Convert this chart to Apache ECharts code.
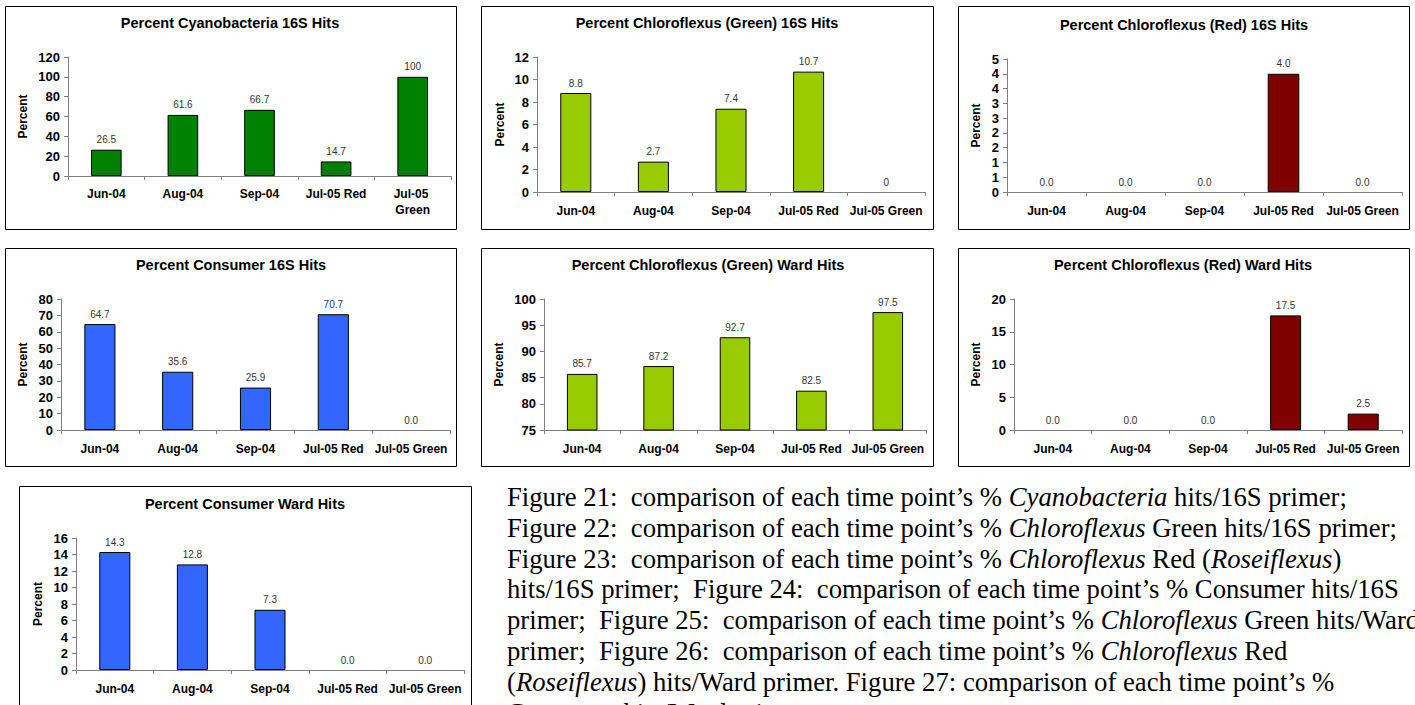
<!DOCTYPE html>
<html><head><meta charset="utf-8">
<script src="https://cdn.jsdelivr.net/npm/echarts@6/dist/echarts.min.js"></script>
<style>
html,body{margin:0;padding:0;width:1415px;height:705px;overflow:hidden;background:#fff;}
#chart{position:absolute;left:0;top:0;width:1415px;height:705px;}
#caption{position:absolute;left:507px;top:482px;font-family:"Liberation Serif","Times New Roman",serif;font-size:26.7px;line-height:30.8px;white-space:pre;color:#000;}
</style></head><body>
<div id="chart"></div>
<div id="caption">Figure 21:  comparison of each time point’s % <i>Cyanobacteria</i> hits/16S primer;
Figure 22:  comparison of each time point’s % <i>Chloroflexus</i> Green hits/16S primer;
Figure 23:  comparison of each time point’s % <i>Chloroflexus</i> Red (<i>Roseiflexus</i>)
hits/16S primer;  Figure 24:  comparison of each time point’s % Consumer hits/16S
primer;  Figure 25:  comparison of each time point’s % <i>Chloroflexus</i> Green hits/Ward
primer;  Figure 26:  comparison of each time point’s % <i>Chloroflexus</i> Red
(<i>Roseiflexus</i>) hits/Ward primer. Figure 27: comparison of each time point’s %
Consumer hits/Ward primer.</div>
<script>
// ---- data ----
const categories = ['Jun-04', 'Aug-04', 'Sep-04', 'Jul-05 Red', 'Jul-05 Green'];
const cyano16S = [26.5, 61.6, 66.7, 14.7, 100];
const chloroGreen16S = [8.8, 2.7, 7.4, 10.7, 0];
const chloroRed16S = [0.0, 0.0, 0.0, 4.0, 0.0];
const consumer16S = [64.7, 35.6, 25.9, 70.7, 0.0];
const chloroGreenWard = [85.7, 87.2, 92.7, 82.5, 97.5];
const chloroRedWard = [0.0, 0.0, 0.0, 17.5, 2.5];
const consumerWard = [14.3, 12.8, 7.3, 0.0, 0.0];
const titles = [
  'Percent Cyanobacteria 16S Hits',
  'Percent Chloroflexus (Green) 16S Hits',
  'Percent Chloroflexus (Red) 16S Hits',
  'Percent Consumer 16S Hits',
  'Percent Chloroflexus (Green) Ward Hits',
  'Percent Chloroflexus (Red) Ward Hits',
  'Percent Consumer Ward Hits'
];
const yMins = [0, 0, 0, 0, 75, 0, 0];
const yMaxs = [120, 12, 4.5, 80, 100, 20, 16];
const yIntervals = [20, 2, 0.5, 10, 5, 5, 2];
const yAxisName = 'Percent';

// ---- layout / style ----
const FONT = 'Arial, "Liberation Sans", sans-serif';
const seriesData = [cyano16S, chloroGreen16S, chloroRed16S, consumer16S, chloroGreenWard, chloroRedWard, consumerWard];
const colors = ['#008000', '#99CC00', '#800000', '#3366FF', '#99CC00', '#800000', '#3366FF'];
const labelDecimals = [null, null, 1, 1, 1, 1, 1];
const grids = [
  {left: 68, top: 57, width: 383, height: 119},
  {left: 537, top: 57, width: 388, height: 135},
  {left: 1007, top: 59, width: 395, height: 133},
  {left: 61, top: 299, width: 389, height: 131},
  {left: 544, top: 299, width: 382, height: 131},
  {left: 1014, top: 299, width: 388, height: 131},
  {left: 76, top: 538, width: 388, height: 132}
];
const titlePos = [[230, 15], [707, 15], [1184, 17], [231, 257], [708, 257], [1183, 257], [245, 496]];
const nameGaps = [39, 31, 25, 32, 39, 32, 32];
const boxes = [[5, 6, 456, 229], [481, 6, 933, 229], [958, 6, 1409, 229],
               [5, 248, 456, 466], [481, 248, 933, 466], [958, 248, 1409, 466],
               [19, 486, 471, 730]];

const option = {
  animation: false,
  backgroundColor: '#fff',
  title: titles.map((t, i) => ({
    text: t, left: titlePos[i][0], top: titlePos[i][1], textAlign: 'center', padding: 0,
    textStyle: {fontFamily: FONT, fontSize: 14.5, fontWeight: 'bold', color: '#000'}
  })),
  grid: grids.map(g => Object.assign({containLabel: false, outerBoundsMode: 'none'}, g)),
  xAxis: grids.map((g, i) => ({
    type: 'category', gridIndex: i, data: categories,
    axisLine: {show: true, lineStyle: {color: '#808080', width: 1}},
    axisTick: {show: true, length: 4, alignWithLabel: false, lineStyle: {color: '#808080'}},
    axisLabel: Object.assign({
      interval: 0, fontFamily: FONT, fontSize: 12, fontWeight: 'bold', color: '#000',
      margin: 12, lineHeight: 14
    }, i === 0 ? {width: 68, overflow: 'break', lineHeight: 16, margin: 10} : {}),
    splitLine: {show: false}
  })),
  yAxis: grids.map((g, i) => ({
    type: 'value', gridIndex: i, min: yMins[i], max: yMaxs[i], interval: yIntervals[i],
    name: yAxisName, nameLocation: 'middle', nameGap: nameGaps[i], nameRotate: 90,
    nameTextStyle: {fontFamily: FONT, fontSize: 12, fontWeight: 'bold', color: '#000'},
    axisLine: {show: true, lineStyle: {color: '#808080', width: 1}},
    axisTick: {show: true, length: 4, lineStyle: {color: '#808080'}},
    axisLabel: {
      fontFamily: FONT, fontSize: 13, fontWeight: 'bold', color: '#000', margin: 8,
      formatter: i === 2 ? (v => String(Math.round(v))) : (v => String(v))
    },
    splitLine: {show: false}
  })),
  series: seriesData.map((d, i) => ({
    type: 'bar', xAxisIndex: i, yAxisIndex: i, barWidth: '40%',
    data: d.map(v => v === 0 ? {value: v, itemStyle: {borderWidth: 0}} : v),
    itemStyle: {color: colors[i], borderColor: '#000', borderWidth: 1},
    label: {
      show: true, position: 'top', distance: 5, fontFamily: FONT, fontSize: 10, color: '#333',
      formatter: p => labelDecimals[i] == null ? String(p.value) : p.value.toFixed(labelDecimals[i])
    }
  })),
  graphic: boxes.map(b => ({
    type: 'rect', silent: true, z: 100,
    shape: {x: b[0] + 0.5, y: b[1] + 0.5, width: b[2] - b[0], height: b[3] - b[1]},
    style: {fill: 'none', stroke: '#000', lineWidth: 1}
  }))
};

const chart = echarts.init(document.getElementById('chart'), null, {renderer: 'svg'});
chart.setOption(option);
</script>
</body></html>
